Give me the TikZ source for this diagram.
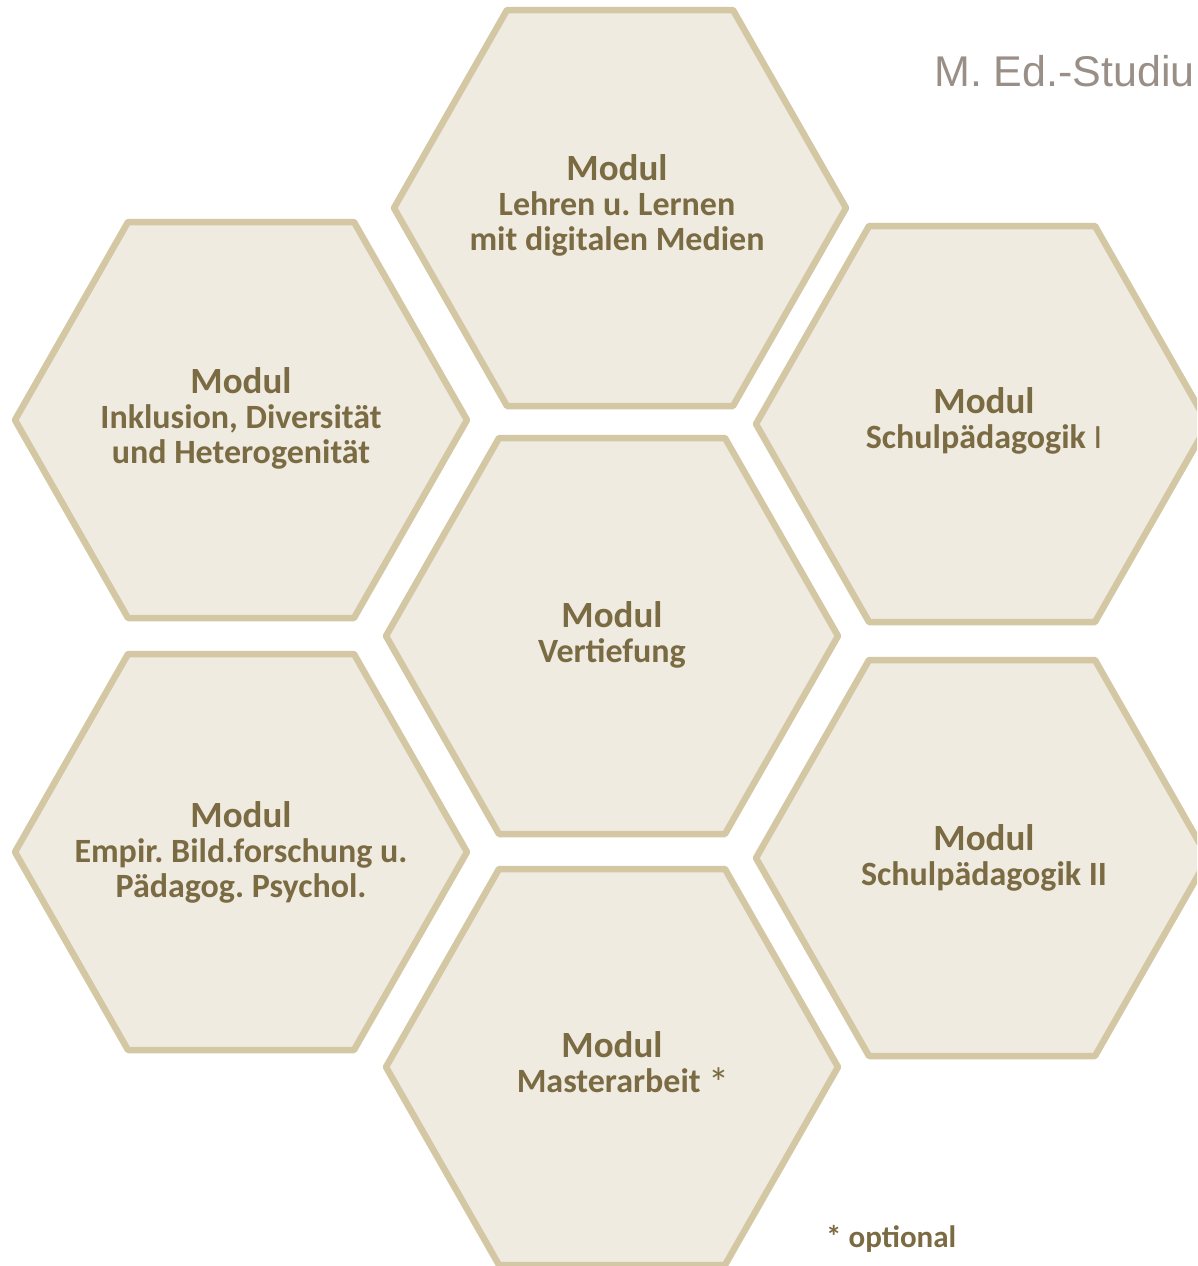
\documentclass[tikz,border=0pt]{standalone}
\usepackage{fontspec}
\setmainfont{Carlito}
\newfontfamily\titlefont{Liberation Sans}
\definecolor{hexfill}{HTML}{EFEBE1}
\definecolor{hexline}{HTML}{D4C7A3}
\definecolor{modtext}{HTML}{7B6B43}
\definecolor{titlegray}{HTML}{9A8F87}
\frenchspacing
\tikzset{
  hexagon/.pic={
    \draw[fill=hexfill, draw=hexline, line width=6.5pt, line join=round]
      (-226,0) -- (-113,-198) -- (113,-198) -- (226,0) -- (113,198) -- (-113,198) -- cycle;
  },
  modlabel/.style={anchor=north, align=center, inner sep=0pt, text=modtext,
    font=\bfseries\fontsize{34}{35}\selectfont},
}
\newcommand\modhead{{\fontsize{37}{37}\selectfont Modul}}
\begin{document}
\begin{tikzpicture}[x=1pt,y=-1pt]
\useasboundingbox (0,0) rectangle (1197,1266);
\clip (0,0) rectangle (1197,1266);
\fill[white] (0,0) rectangle (1197,1266);
% hexagons
\pic at (620,208) {hexagon};
\pic at (241,420) {hexagon};
\pic at (982,424) {hexagon};
\pic at (612,636) {hexagon};
\pic at (241,852) {hexagon};
\pic at (982,858) {hexagon};
\pic at (612,1067) {hexagon};
% labels
\node[modlabel] (lehren) at (617,180-26) {\modhead\\Lehren u. Lernen\\mit digitalen Medien};
\node[modlabel] (inkl) at (241,393-26) {\modhead\\Inklusion, Diversität\\und Heterogenität};
\node[modlabel] (schul1) at (984,413-26) {\modhead\\Schulpädagogik {\mdseries I}};
\node[modlabel] (vert) at (612,627-26) {\modhead\\Vertiefung};
\node[modlabel] (empir) at (241,827-26) {\modhead\\Empir. Bild.forschung u.\\Pädagog. Psychol.};
\node[modlabel] (schul2) at (984,850-26) {\modhead\\Schulpädagogik II};
\node[modlabel] (master) at (623,1057-26) {\modhead\hspace*{22pt}\\Masterarbeit \raisebox{-5pt}{\mdseries\fontsize{42}{35}\selectfont *}};
\node[anchor=base west, inner sep=0pt, text=modtext, font=\bfseries\fontsize{31}{35}\selectfont] (opt) at (826,1247) {* optional};
\node[anchor=base west, inner sep=0pt, text=titlegray, font=\titlefont\fontsize{43}{50}\selectfont] (title) at (934,86) {M. Ed.-Studiu};
\end{tikzpicture}
\end{document}
